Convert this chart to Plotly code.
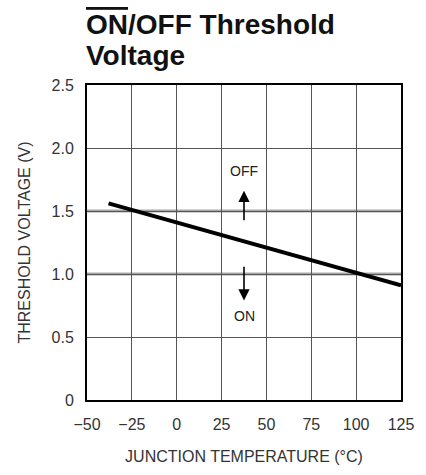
import plotly.graph_objects as go

# Data
temperature_c = [-38, 125]
threshold_v = [1.56, 0.91]

x_ticks = [-50, -25, 0, 25, 50, 75, 100, 125]
y_ticks = [0, 0.5, 1.0, 1.5, 2.0, 2.5]
y_tick_text = ["0", "0.5", "1.0", "1.5", "2.0", "2.5"]
highlight_levels = [1.0, 1.5]

FONT = "Liberation Sans, Arial, sans-serif"

fig = go.Figure()

for lv in highlight_levels:
    fig.add_hline(y=lv, line=dict(color="#a8a8a8", width=3), layer="below")

fig.add_trace(go.Scatter(
    x=temperature_c, y=threshold_v, mode="lines",
    line=dict(color="black", width=4), showlegend=False, hoverinfo="skip",
))

# OFF / ON indicators
fig.add_annotation(x=37.5, y=1.66, ax=37.5, ay=1.415, xref="x", yref="y",
                   axref="x", ayref="y", showarrow=True, arrowhead=2,
                   arrowsize=1.4, arrowwidth=1.6, arrowcolor="black", text="")
fig.add_annotation(x=37.5, y=0.79, ax=37.5, ay=1.07, xref="x", yref="y",
                   axref="x", ayref="y", showarrow=True, arrowhead=2,
                   arrowsize=1.4, arrowwidth=1.6, arrowcolor="black", text="")
fig.add_annotation(x=37.5, y=1.82, xref="x", yref="y", text="OFF", showarrow=False,
                   font=dict(family=FONT, size=14, color="#222"))
fig.add_annotation(x=37.5, y=0.67, xref="x", yref="y", text="ON", showarrow=False,
                   font=dict(family=FONT, size=14, color="#222"))

# Title
fig.add_annotation(x=0, y=1.192, xref="paper", yref="paper", xanchor="left", yanchor="middle",
                   xshift=-3,
                   text='<span style="text-decoration:overline">ON</span>/OFF Threshold',
                   showarrow=False, font=dict(family=FONT, size=28, color="#111", weight="bold"))
fig.add_annotation(x=0, y=1.094, xref="paper", yref="paper", xanchor="left", yanchor="middle",
                   xshift=-3, text="Voltage",
                   showarrow=False, font=dict(family=FONT, size=28, color="#111", weight="bold"))

axis_common = dict(
    showline=True, linecolor="black", linewidth=2, mirror=True,
    showgrid=True, gridcolor="#555555", gridwidth=1.2,
    zeroline=False, ticks="",
    tickfont=dict(family=FONT, size=16, color="#333"),
)

fig.update_xaxes(range=[-50, 125], tickvals=x_ticks, ticklabelstandoff=9,
                 title=dict(text="JUNCTION TEMPERATURE (°C)", standoff=19,
                            font=dict(family=FONT, size=16, color="#333")),
                 **axis_common)
fig.update_yaxes(range=[0, 2.5], tickvals=y_ticks, ticktext=y_tick_text, ticklabelstandoff=8,
                 title=dict(text="THRESHOLD VOLTAGE (V)", standoff=17,
                            font=dict(family=FONT, size=16, color="#333")),
                 **axis_common)

fig.update_layout(
    width=426, height=475,
    margin=dict(l=87, r=16, t=85, b=71),
    paper_bgcolor="white", plot_bgcolor="white",
    showlegend=False,
)

fig.write_html("out.html")
